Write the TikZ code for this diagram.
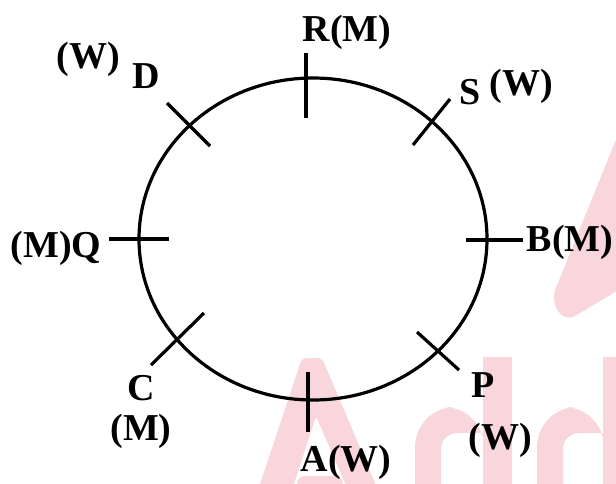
\documentclass[tikz,border=0pt]{standalone}
\usepackage{fontspec}
\setmainfont{Liberation Serif}
\definecolor{wmpink}{HTML}{F8D6DB}
\tikzset{
  ring/.style={draw=black, line width=3.2pt},
  tick mark/.style={black, line width=3.2pt},
  seat label/.style={font=\fontsize{38}{40}\selectfont\bfseries, inner sep=0pt},
  watermark/.style={fill=wmpink},
}

\begin{document}
\begin{tikzpicture}[x=1pt,y=-1pt]
  \useasboundingbox (0,0) rectangle (616,483);

  % faint watermark behind the ring
  \begin{scope}
    \clip (0,0) rectangle (616,483);
    \fill[watermark, rounded corners=12pt] (630,105) -- (551,300) -- (565,322) -- (630,283) -- cycle;
    \fill[watermark, even odd rule, rounded corners=4pt]
      (258,490) -- (302,358) -- (322,358) -- (378,490) -- cycle
      (292,490) -- (316,416) -- (348,490) -- cycle;
    \fill[watermark, rounded corners=8pt] (297,476) rectangle (343,495);
    \foreach \bx/\sx in {415/483, 537/603} {
      \fill[watermark] (\sx,357) rectangle ++(29,140);
      \fill[watermark] (\bx,490) [rounded corners=40pt] -- (\bx,407) -- (\sx+1,407)
        [sharp corners] -- (\sx+1,433) [rounded corners=16pt] -- (\bx+26,433)
        [sharp corners] -- (\bx+26,490) -- cycle;
    }
  \end{scope}

  % seating ring
  \coordinate (O) at (313,239);
  \draw[ring] (O) ellipse [x radius=174pt, y radius=161pt];

  % tick marks: outer end / inner end
  \foreach \n/\xa/\ya/\xb/\yb in {R/306/53/306/118, S/450/99/413/145,
      B/523/240/466/240, P/459/370/417/332, A/308/432/308/372,
      C/151/365/204/313, Q/109/239/169/239, D/167/103/210/146} {
    \coordinate (\n out) at (\xa,\ya);
    \coordinate (\n in) at (\xb,\yb);
    \draw[tick mark] (\n out) -- (\n in);
  }

  % seat labels
  \node[seat label] (rlab) at (347,32) {R(M)};
  \node[seat label] (dsex) at (88,59) {(W)};
  \node[seat label] (dlab) at (146,76) {D};
  \node[seat label] (slab) at (470,92) {S};
  \node[seat label] (ssex) at (521,86) {(W)};
  \node[seat label] (blab) at (570,242) {B(M)};
  \node[seat label] (qlab) at (56,248) {(M)Q};
  \node[seat label] (clab) at (141,388) {C};
  \node[seat label] (csex) at (141,431) {(M)};
  \node[seat label] (plab) at (483,385) {P};
  \node[seat label] (psex) at (500,440) {(W)};
  \node[seat label] (alab) at (346,462) {A(W)};
\end{tikzpicture}
\end{document}
